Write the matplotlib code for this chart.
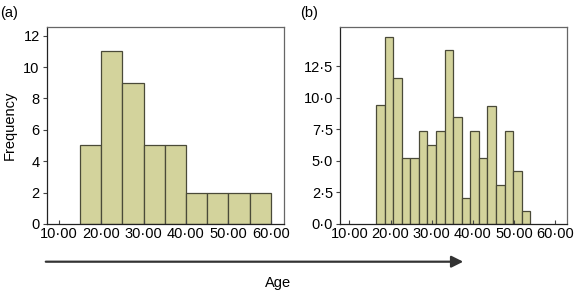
import matplotlib
matplotlib.use("Agg")
import matplotlib.pyplot as plt
import numpy as np

plt.rcParams['font.family'] = ['Liberation Sans', 'DejaVu Sans']

# Panel (a) data
a_edges = [15, 20, 25, 30, 35, 40, 45, 50, 55, 60]
a_counts = [5, 11, 9, 5, 5, 2, 2, 2, 2]
a_yticks = [0, 2, 4, 6, 8, 10, 12]
a_yticklabels = ['0', '2', '4', '6', '8', '10', '12']

# Panel (b) data
b_start = 16.5
b_width = 2.08
b_heights = [9.44, 14.8, 11.6, 5.2, 5.2, 7.4, 6.3, 7.4, 13.8, 8.5,
             2.1, 7.4, 5.2, 9.4, 3.1, 7.4, 4.2, 1.06]
b_yticks = [0.0, 2.5, 5.0, 7.5, 10.0, 12.5]
b_yticklabels = ['0·0', '2·5', '5·0', '7·5', '10·0', '12·5']

x_ticks = [10, 20, 30, 40, 50, 60]
x_ticklabels = ['10·00', '20·00', '30·00', '40·00', '50·00', '60·00']

bar_color = '#d3d39c'
edge_color = '#4a4a38'
frame_color = '#666666'
fs = 10.5

fig = plt.figure(figsize=(5.76, 2.92), dpi=100)
ax1 = fig.add_axes([0.081, 0.233, 0.412, 0.6745])
ax2 = fig.add_axes([0.590, 0.233, 0.394, 0.6745])

a_left = a_edges[:-1]
a_w = np.diff(a_edges)
ax1.bar(a_left, a_counts, width=a_w, align='edge', color=bar_color,
        edgecolor=edge_color, linewidth=0.9)
ax1.set_xlim(7.15, 63.1)
ax1.set_ylim(0, 12.55)
ax1.set_yticks(a_yticks)
ax1.set_yticklabels(a_yticklabels)
ax1.set_ylabel('Frequency', fontsize=fs, labelpad=5)

b_left = [b_start + i * b_width for i in range(len(b_heights))]
ax2.bar(b_left, b_heights, width=b_width, align='edge', color=bar_color,
        edgecolor=edge_color, linewidth=0.9)
ax2.set_xlim(7.7, 62.8)
ax2.set_ylim(0, 15.63)
ax2.set_yticks(b_yticks)
ax2.set_yticklabels(b_yticklabels)

for ax in (ax1, ax2):
    ax.set_xticks(x_ticks)
    ax.set_xticklabels(x_ticklabels)
    ax.tick_params(axis='x', direction='in', length=3, width=0.8,
                   color='#444444', labelsize=fs, pad=2)
    ax.tick_params(axis='y', direction='out', length=3, width=0.8,
                   color='#444444', labelsize=fs, pad=2)
    for s in ax.spines.values():
        s.set_color(frame_color)
        s.set_linewidth(0.9)
    ax.spines['bottom'].set_color('#222222')
    ax.spines['left'].set_color('#222222')

fig.text(0.0, 0.955, '(a)', fontsize=fs, ha='left', va='center')
fig.text(0.521, 0.955, '(b)', fontsize=fs, ha='left', va='center')

# Arrow along the bottom
fig.add_artist(matplotlib.patches.FancyArrowPatch(
    (43 / 576, 1 - 261.7 / 292), (466 / 576, 1 - 261.7 / 292),
    transform=fig.transFigure, arrowstyle='-|>,head_length=7,head_width=3.5',
    mutation_scale=1, color='#333333', linewidth=1.6))
fig.text(278 / 576, 1 - 283 / 292, 'Age', fontsize=fs, ha='center', va='center')

fig.savefig('out.png', dpi=100)
